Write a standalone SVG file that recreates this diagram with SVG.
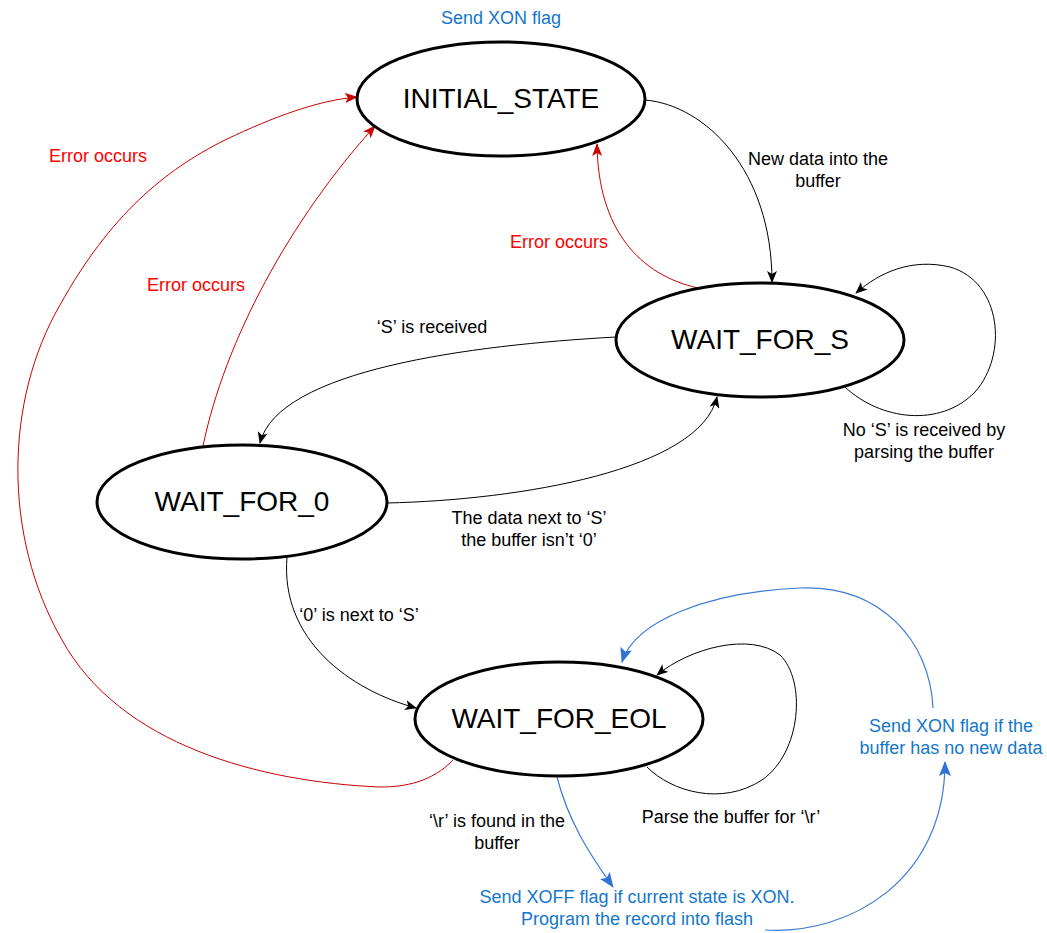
<svg xmlns="http://www.w3.org/2000/svg" width="1047" height="933" viewBox="0 0 1047 933">
<style>
.node{fill:#fff;stroke:#000;stroke-width:3}
.nt{font-family:"Liberation Sans",Arial,sans-serif;font-size:28px;fill:#000;text-anchor:middle}
.lb{font-family:"Liberation Sans",Arial,sans-serif;font-size:18px;text-anchor:middle}
.k{fill:#000}.r{fill:#ff0000}.b{fill:#1477cc}
.ck{fill:none;stroke:#000;stroke-width:1}
.cr{fill:none;stroke:#cc0000;stroke-width:1}
.cb{fill:none;stroke:#3a7bd5;stroke-width:1.2}
</style>
<defs>
<marker id="ak" markerUnits="userSpaceOnUse" markerWidth="12" markerHeight="10" refX="11" refY="5" orient="auto"><path d="M0,0 L12,5 L0,10 L3,5 z" fill="#000"/></marker>
<marker id="ar" markerUnits="userSpaceOnUse" markerWidth="13" markerHeight="10" refX="12" refY="5" orient="auto"><path d="M0,0 L13,5 L0,10 L3,5 z" fill="#cc0000"/></marker>
<marker id="ab" markerUnits="userSpaceOnUse" markerWidth="15" markerHeight="12" refX="14" refY="6" orient="auto"><path d="M0,0 L15,6 L0,12 L3,6 z" fill="#2f73d6"/></marker>
</defs>
<rect width="1047" height="933" fill="#fff"/>
<g id="connectors">
<path class="ck" d="M645,100 C705,105 772,170 772,282" marker-end="url(#ak)"/>
<path class="cr" d="M698,288 C640,275 598,230 597,144" marker-end="url(#ar)"/>
<path class="ck" d="M845,387 C880,420 940,428 975,392 C1008,355 1002,282 950,267 C912,258 880,272 856,293" marker-end="url(#ak)"/>
<path class="ck" d="M616,337 C470,345 278,370 260,443" marker-end="url(#ak)"/>
<path class="ck" d="M387,503 C520,500 700,470 717,397" marker-end="url(#ak)"/>
<path class="ck" d="M287,557 C280,640 350,690 416,708" marker-end="url(#ak)"/>
<path class="cr" d="M453,760 C432,782 405,787 380,787 C260,782 120,745 62,640 C2,535 5,400 60,305 C110,215 165,170 225,140 C275,116 320,100 357,97" marker-end="url(#ar)"/>
<path class="cr" d="M203,446 C225,340 290,220 375,126" marker-end="url(#ar)"/>
<path class="ck" d="M647,767 C672,792 722,806 762,780 C802,752 806,680 780,655 C750,632 690,648 657,675" marker-end="url(#ak)"/>
<path class="cb" d="M557,777 C568,820 588,852 613,887" marker-end="url(#ab)"/>
<path class="cb" d="M765,930 C850,935 945,880 945,762" marker-end="url(#ab)"/>
<path class="cb" d="M933,708 C930,640 880,585 800,588 C710,592 635,620 622,662" marker-end="url(#ab)"/>
</g>
<g id="n-initial"><ellipse class="node" cx="501" cy="99" rx="144" ry="57"/><text class="nt" x="501" y="108">INITIAL_STATE</text></g>
<g id="n-wait-s"><ellipse class="node" cx="760" cy="340" rx="144" ry="57"/><text class="nt" x="760" y="349">WAIT_FOR_S</text></g>
<g id="n-wait-0"><ellipse class="node" cx="242" cy="502" rx="145" ry="57"/><text class="nt" x="242" y="511">WAIT_FOR_0</text></g>
<g id="n-wait-eol"><ellipse class="node" cx="559" cy="719" rx="144" ry="57"/><text class="nt" x="559" y="728">WAIT_FOR_EOL</text></g>
<g id="labels">
<text class="lb b" x="501" y="24">Send XON flag</text>
<text class="lb k" x="818" y="165">New data into the</text>
<text class="lb k" x="818" y="187">buffer</text>
<text class="lb r" x="559" y="248">Error occurs</text>
<text class="lb r" x="98" y="162">Error occurs</text>
<text class="lb r" x="196" y="291">Error occurs</text>
<text class="lb k" x="432" y="333">‘S’ is received</text>
<text class="lb k" x="924" y="436">No ‘S’ is received by</text>
<text class="lb k" x="924" y="458">parsing the buffer</text>
<text class="lb k" x="529" y="524">The data next to ‘S’</text>
<text class="lb k" x="529" y="546">the buffer isn’t ‘0’</text>
<text class="lb k" x="359" y="621">‘0’ is next to ‘S’</text>
<text class="lb k" x="497" y="827">‘\r’ is found in the</text>
<text class="lb k" x="497" y="849">buffer</text>
<text class="lb k" x="731" y="823">Parse the buffer for ‘\r’</text>
<text class="lb b" x="637" y="903">Send XOFF flag if current state is XON.</text>
<text class="lb b" x="637" y="925">Program the record into flash</text>
<text class="lb b" x="951" y="732">Send XON flag if the</text>
<text class="lb b" x="951" y="754">buffer has no new data</text>
</g>
</svg>
